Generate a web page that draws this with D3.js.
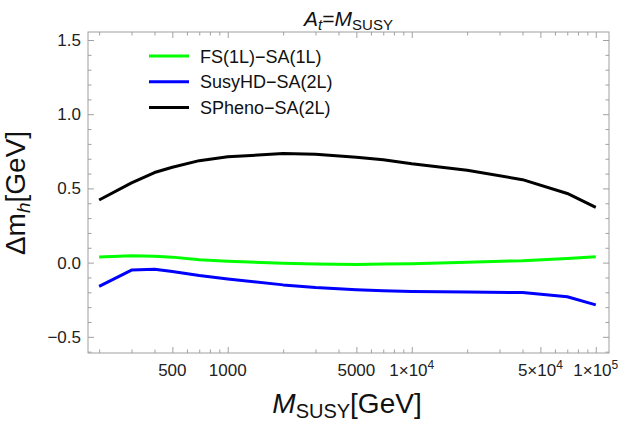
<!DOCTYPE html>
<html>
<head>
<meta charset="utf-8">
<script src="https://cdn.jsdelivr.net/npm/d3@7"></script>
<style>
  body { margin: 0; background: #fff; }
  svg { font-family: "Liberation Sans", Arial, sans-serif; }
</style>
</head>
<body>
<div id="chart"></div>
<script>
// M_SUSY values (GeV) where the differences were read
var mSusy = [200, 300, 400, 500, 700, 1000, 2000, 3000, 5000, 7000, 10000, 20000, 40000, 70000, 100000];

// Delta m_h [GeV] for each comparison
var fsSa1L     = [0.038, 0.047, 0.043, 0.037, 0.020, 0.010, -0.005, -0.010, -0.012, -0.010, -0.008, 0.003, 0.013, 0.028, 0.040];
var susyhdSa2L = [-0.160, -0.050, -0.044, -0.060, -0.087, -0.110, -0.150, -0.168, -0.183, -0.190, -0.195, -0.198, -0.202, -0.230, -0.285];
var sphenoSa2L = [0.422, 0.537, 0.607, 0.643, 0.687, 0.713, 0.735, 0.730, 0.710, 0.693, 0.666, 0.623, 0.559, 0.466, 0.372];

var seriesNames  = ["FS(1L)\u2212SA(1L)", "SusyHD\u2212SA(2L)", "SPheno\u2212SA(2L)"];
var seriesColors = ["#00ff00", "#0000ff", "#000000"];
var seriesValues = [fsSa1L, susyhdSa2L, sphenoSa2L];

var xMajor = [500, 1000, 5000, 10000, 50000, 100000];
var xLabels = [["500"], ["1000"], ["5000"], ["1\u00d710", "4"], ["5\u00d710", "4"], ["1\u00d710", "5"]];
var xMinor = [200, 300, 400, 600, 700, 800, 900, 2000, 3000, 4000, 6000, 7000, 8000, 9000,
              20000, 30000, 40000, 60000, 70000, 80000, 90000];
var yMajor = [-0.5, 0, 0.5, 1.0, 1.5];
var yLabels = ["\u22120.5", "0.0", "0.5", "1.0", "1.5"];
var yMinor = [-0.6, -0.4, -0.3, -0.2, -0.1, 0.1, 0.2, 0.3, 0.4, 0.6, 0.7, 0.8, 0.9, 1.1, 1.2, 1.3, 1.4];

var w = 625, h = 428;
var pL = 88, pR = 609, pT = 32, pB = 353;
var frameColor = "#a0a0a0";

var x = d3.scaleLog().domain([174, 118000]).range([pL, pR]);
var y = d3.scaleLinear().domain([-0.609, 1.554]).range([pB, pT]);

var svg = d3.select("#chart").append("svg")
  .attr("width", w).attr("height", h);

// ticks on all four sides, pointing in
function styleAxis(g) {
  g.select(".domain").remove();
  g.selectAll("line").attr("stroke", frameColor);
  g.selectAll("text").remove();
}
function addAxis(axis, tx, ty) {
  svg.append("g").attr("transform", "translate(" + tx + "," + ty + ")")
    .call(axis).call(styleAxis);
}
addAxis(d3.axisBottom(x).tickValues(xMajor).tickSize(-6).tickFormat(""), 0, pB);
addAxis(d3.axisBottom(x).tickValues(xMinor).tickSize(-3.5).tickFormat(""), 0, pB);
addAxis(d3.axisTop(x).tickValues(xMajor).tickSize(-6).tickFormat(""), 0, pT);
addAxis(d3.axisTop(x).tickValues(xMinor).tickSize(-3.5).tickFormat(""), 0, pT);
addAxis(d3.axisLeft(y).tickValues(yMajor).tickSize(-6).tickFormat(""), pL, 0);
addAxis(d3.axisLeft(y).tickValues(yMinor).tickSize(-3.5).tickFormat(""), pL, 0);
addAxis(d3.axisRight(y).tickValues(yMajor).tickSize(-6).tickFormat(""), pR, 0);
addAxis(d3.axisRight(y).tickValues(yMinor).tickSize(-3.5).tickFormat(""), pR, 0);

svg.append("rect")
  .attr("x", pL).attr("y", pT)
  .attr("width", pR - pL).attr("height", pB - pT)
  .attr("fill", "none").attr("stroke", frameColor).attr("stroke-width", 1);

// tick labels
svg.selectAll(".ylab").data(yMajor).enter().append("text")
  .attr("class", "ylab")
  .attr("x", pL - 7)
  .attr("y", function(d) { return y(d) + 6; })
  .attr("text-anchor", "end")
  .attr("font-size", 17)
  .attr("fill", "#222")
  .text(function(d, i) { return yLabels[i]; });

var xl = svg.selectAll(".xlab").data(xMajor).enter().append("text")
  .attr("class", "xlab")
  .attr("x", function(d) { return x(d); })
  .attr("y", 376)
  .attr("text-anchor", "middle")
  .attr("font-size", 17)
  .attr("fill", "#222");
xl.append("tspan").text(function(d, i) { return xLabels[i][0]; });
xl.append("tspan")
  .attr("dy", -7).attr("font-size", 12)
  .text(function(d, i) { return xLabels[i][1] || ""; });

// lines
var line = d3.line()
  .x(function(d) { return x(d[0]); })
  .y(function(d) { return y(d[1]); });

seriesValues.forEach(function(vals, k) {
  svg.append("path")
    .datum(mSusy.map(function(m, i) { return [m, vals[i]]; }))
    .attr("fill", "none")
    .attr("stroke", seriesColors[k])
    .attr("stroke-width", 3)
    .attr("stroke-linejoin", "round")
    .attr("d", line);
});

// legend
var legend = svg.append("g");
seriesNames.forEach(function(name, k) {
  var ly = 56 + k * 25.8;
  legend.append("line")
    .attr("x1", 149).attr("x2", 189).attr("y1", ly).attr("y2", ly)
    .attr("stroke", seriesColors[k]).attr("stroke-width", 3);
  legend.append("text")
    .attr("x", 200).attr("y", ly + 6.5)
    .attr("font-size", 18).attr("fill", "#111")
    .text(name);
});

// title
var title = svg.append("text")
  .attr("x", (pL + pR) / 2).attr("y", 26)
  .attr("text-anchor", "middle").attr("font-size", 21).attr("fill", "#111");
title.append("tspan").attr("font-style", "italic").text("A");
title.append("tspan").attr("font-style", "italic").attr("font-size", 15).attr("dy", 4).text("t");
title.append("tspan").attr("dy", -4).text("=");
title.append("tspan").attr("font-style", "italic").text("M");
title.append("tspan").attr("font-size", 15).attr("dy", 4).text("SUSY");

// axis labels
var xt = svg.append("text")
  .attr("x", 347).attr("y", 413)
  .attr("text-anchor", "middle").attr("font-size", 28).attr("fill", "#111");
xt.append("tspan").attr("font-style", "italic").text("M");
xt.append("tspan").attr("font-size", 20).attr("dy", 5).text("SUSY");
xt.append("tspan").attr("dy", -5).text("[GeV]");

var yt = svg.append("text")
  .attr("transform", "translate(25,193) rotate(-90)")
  .attr("text-anchor", "middle").attr("font-size", 28).attr("fill", "#111");
yt.append("tspan").text("\u0394m");
yt.append("tspan").attr("font-style", "italic").attr("font-size", 19).attr("dy", 5).text("h");
yt.append("tspan").attr("dy", -5).text("[GeV]");
</script>
</body>
</html>
